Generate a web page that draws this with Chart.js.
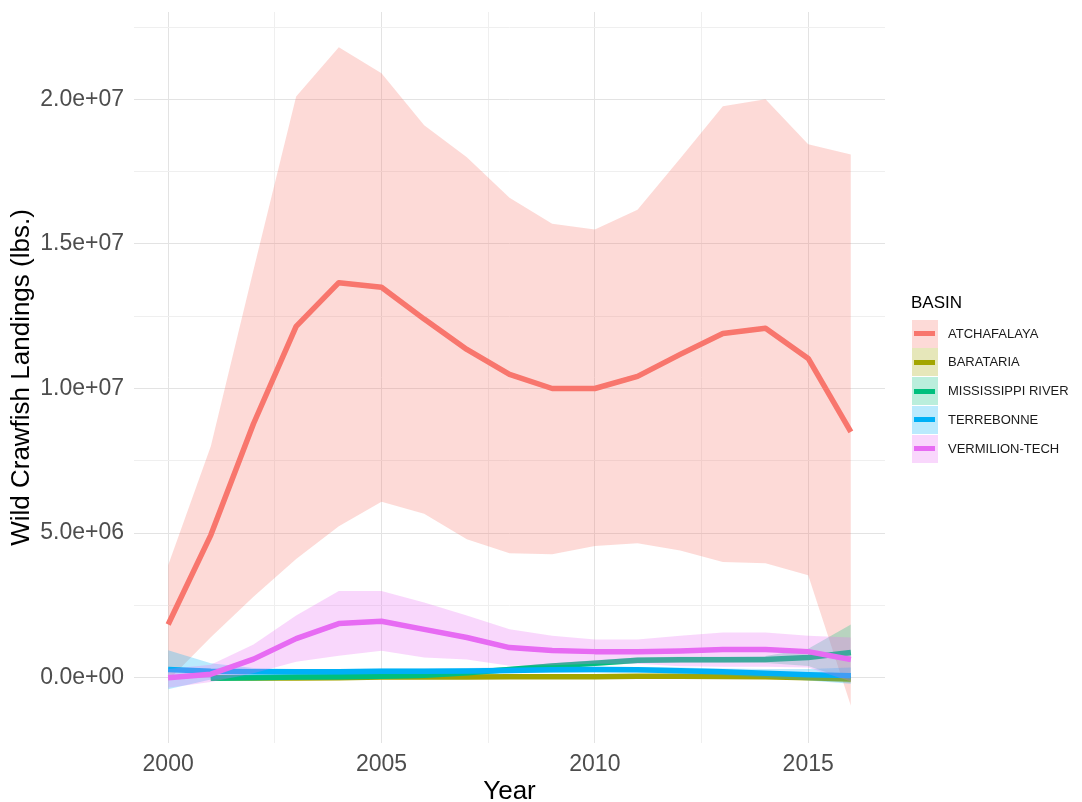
<!DOCTYPE html>
<html>
<head>
<meta charset="utf-8">
<title>Wild Crawfish Landings by Basin</title>
<script src="https://cdn.jsdelivr.net/npm/chart.js@4.4.1/dist/chart.umd.min.js"></script>
<style>
  html, body { margin: 0; padding: 0; background: #ffffff; }
  #wrap { position: relative; width: 1082px; height: 802px; }
  #chart { display: block; }
  #legend { position: absolute; left: 0; top: 0; font-family: "Liberation Sans", Arial, sans-serif; }
  .legend-title { position: absolute; left: 911px; top: 294px; font-size: 17px; line-height: 17px; color: #000000; white-space: nowrap; }
  .legend-row { position: absolute; left: 912px; width: 170px; height: 28px; }
  .legend-key { position: absolute; left: 0; top: 0; width: 26px; height: 28px; }
  .legend-key span { position: absolute; left: 2px; right: 3px; top: 11.5px; height: 5px; }
  .legend-label { position: absolute; left: 36px; top: 0; line-height: 28px; font-size: 13px; color: #1a1a1a; white-space: nowrap; }
</style>
</head>
<body>
<div id="wrap">
  <canvas id="chart" width="1082" height="802"></canvas>
  <div id="legend"></div>
</div>
<script>
// Smoothed wild crawfish landings (lbs.) per basin, with confidence band.
const years = [2000, 2001, 2002, 2003, 2004, 2005, 2006, 2007, 2008, 2009, 2010, 2011, 2012, 2013, 2014, 2015, 2016];

const basins = ['ATCHAFALAYA', 'BARATARIA', 'MISSISSIPPI RIVER', 'TERREBONNE', 'VERMILION-TECH'];
const basinColors = ['#F8766D', '#A3A500', '#00BF7D', '#00B0F6', '#E76BF3'];

const atchafalayaFit   = [1840000, 4930000, 8780000, 12150000, 13660000, 13500000, 12400000, 11350000, 10490000, 10000000, 10000000, 10420000, 11180000, 11900000, 12080000, 11040000, 8500000];
const atchafalayaUpper = [3890000, 8000000, 14100000, 20100000, 21800000, 20900000, 19100000, 18000000, 16600000, 15700000, 15500000, 16180000, 17950000, 19760000, 20000000, 18450000, 18090000];
const atchafalayaLower = [-100000, 1400000, 2800000, 4100000, 5240000, 6080000, 5670000, 4790000, 4300000, 4270000, 4550000, 4650000, 4400000, 4000000, 3960000, 3540000, -970000];

const baratariaFit   = [null, 0, -10000, -10000, 0, 20000, 20000, 20000, 30000, 30000, 30000, 50000, 50000, 40000, 30000, 0, -50000];
const baratariaUpper = [null, 80000, 60000, 60000, 70000, 90000, 90000, 90000, 100000, 100000, 100000, 120000, 120000, 110000, 100000, 90000, 80000];
const baratariaLower = [null, -80000, -80000, -80000, -70000, -50000, -50000, -50000, -40000, -40000, -40000, -20000, -20000, -30000, -40000, -90000, -180000];

const mississippiFit   = [null, -20000, 0, 20000, 30000, 50000, 80000, 170000, 280000, 400000, 500000, 600000, 620000, 620000, 630000, 700000, 870000];
const mississippiUpper = [null, 80000, 100000, 120000, 130000, 150000, 180000, 270000, 380000, 500000, 600000, 700000, 720000, 720000, 750000, 1000000, 1840000];
const mississippiLower = [null, -120000, -100000, -80000, -70000, -50000, -20000, 70000, 180000, 300000, 400000, 500000, 520000, 520000, 510000, 400000, -100000];

const terrebonneFit   = [280000, 220000, 200000, 200000, 200000, 220000, 220000, 230000, 250000, 270000, 280000, 270000, 240000, 200000, 150000, 100000, 70000];
const terrebonneUpper = [950000, 500000, 330000, 300000, 300000, 320000, 320000, 330000, 350000, 370000, 380000, 370000, 350000, 320000, 300000, 300000, 350000];
const terrebonneLower = [-400000, -60000, 70000, 100000, 100000, 120000, 120000, 130000, 150000, 170000, 180000, 170000, 130000, 80000, 0, -100000, -210000];

const vermilionFit   = [0, 120000, 640000, 1350000, 1870000, 1950000, 1670000, 1390000, 1040000, 940000, 900000, 900000, 920000, 970000, 970000, 900000, 630000];
const vermilionUpper = [300000, 450000, 1150000, 2150000, 3000000, 3000000, 2600000, 2150000, 1670000, 1450000, 1320000, 1320000, 1450000, 1560000, 1560000, 1450000, 1390000];
const vermilionLower = [-350000, -150000, 150000, 550000, 760000, 930000, 700000, 630000, 410000, 430000, 480000, 480000, 390000, 380000, 380000, 350000, -130000];

const yearTicks = [2000, 2005, 2010, 2015];
const landingTicks = [0, 5000000, 10000000, 15000000, 20000000];
const landingTickLabels = ['0.0e+00', '5.0e+06', '1.0e+07', '1.5e+07', '2.0e+07'];

const xMin = 1999.2, xMax = 2016.8;
const yMin = -2260000, yMax = 23020000;

const bandAlpha = 0.27;
const lineWidth = 5.5;
const fontFamily = '"Liberation Sans", Arial, Helvetica, sans-serif';

const seriesList = [
  { fit: atchafalayaFit, upper: atchafalayaUpper, lower: atchafalayaLower },
  { fit: baratariaFit, upper: baratariaUpper, lower: baratariaLower },
  { fit: mississippiFit, upper: mississippiUpper, lower: mississippiLower },
  { fit: terrebonneFit, upper: terrebonneUpper, lower: terrebonneLower },
  { fit: vermilionFit, upper: vermilionUpper, lower: vermilionLower }
];

function rgba(hex, a) {
  const n = parseInt(hex.slice(1), 16);
  return `rgba(${(n >> 16) & 255}, ${(n >> 8) & 255}, ${n & 255}, ${a})`;
}

function toPoints(values) {
  return years.map((yr, i) => ({ x: yr, y: values[i] }));
}

// Major ticks plus the half-step minor gridlines between (and around) them.
function gridValues(majors, min, max) {
  const step = majors[1] - majors[0];
  const out = [];
  for (let v = majors[0] - step; v <= max + 1e-9; v += step / 2) {
    if (v >= min - 1e-9) out.push(v);
  }
  return out;
}

// Each basin: band top (filled down to the next dataset), band bottom, then the fitted line.
const datasets = [];
seriesList.forEach((s, b) => {
  const color = basinColors[b];
  datasets.push({
    label: basins[b] + ' upper',
    data: toPoints(s.upper),
    borderColor: 'rgba(0,0,0,0)',
    borderWidth: 0,
    backgroundColor: rgba(color, bandAlpha),
    fill: '+1',
    pointRadius: 0
  });
  datasets.push({
    label: basins[b] + ' lower',
    data: toPoints(s.lower),
    borderColor: 'rgba(0,0,0,0)',
    borderWidth: 0,
    fill: false,
    pointRadius: 0
  });
  datasets.push({
    label: basins[b],
    data: toPoints(s.fit),
    borderColor: color,
    borderWidth: lineWidth,
    borderJoinStyle: 'round',
    fill: false,
    pointRadius: 0
  });
});
// Later basins are drawn over earlier ones.
datasets.forEach((d, i) => { d.order = -i; });

Chart.defaults.font.family = fontFamily;

const tickFont = { family: fontFamily, size: 23 };
const titleFont = { family: fontFamily, size: 26, lineHeight: 1 };

new Chart(document.getElementById('chart'), {
  type: 'line',
  data: { datasets },
  options: {
    responsive: false,
    animation: false,
    devicePixelRatio: 1,
    layout: { padding: { top: 12, right: 197, bottom: 0, left: 0 } },
    elements: { line: { tension: 0 }, point: { radius: 0 } },
    plugins: {
      legend: { display: false },
      tooltip: { enabled: false }
    },
    scales: {
      x: {
        type: 'linear',
        min: xMin,
        max: xMax,
        afterBuildTicks: scale => {
          scale.ticks = gridValues(yearTicks, xMin, xMax).map(v => ({ value: v }));
        },
        afterFit: scale => {
          scale.height = 59;
          scale.paddingLeft = 0;
          scale.paddingRight = 0;
        },
        ticks: {
          autoSkip: false,
          maxRotation: 0,
          padding: 8,
          color: '#4D4D4D',
          font: tickFont,
          callback: v => (yearTicks.includes(v) ? String(v) : '')
        },
        grid: {
          drawTicks: false,
          lineWidth: 1,
          color: ctx => (ctx.tick && yearTicks.includes(ctx.tick.value) ? '#E3E3E3' : '#EFEFEF')
        },
        border: { display: false },
        title: {
          display: true,
          text: 'Year',
          color: '#000000',
          font: titleFont,
          padding: { top: 0, bottom: -3 }
        }
      },
      y: {
        type: 'linear',
        min: yMin,
        max: yMax,
        afterBuildTicks: scale => {
          scale.ticks = gridValues(landingTicks, yMin, yMax).map(v => ({ value: v }));
        },
        afterFit: scale => {
          scale.width = 134;
          scale.paddingTop = 0;
          scale.paddingBottom = 0;
        },
        ticks: {
          autoSkip: false,
          padding: 10,
          color: '#4D4D4D',
          font: tickFont,
          callback: v => {
            const i = landingTicks.indexOf(v);
            return i >= 0 ? landingTickLabels[i] : '';
          }
        },
        grid: {
          drawTicks: false,
          lineWidth: 1,
          color: ctx => (ctx.tick && landingTicks.includes(ctx.tick.value) ? '#E3E3E3' : '#EFEFEF')
        },
        border: { display: false },
        title: {
          display: true,
          text: 'Wild Crawfish Landings (lbs.)',
          color: '#000000',
          font: titleFont,
          padding: { top: 9, bottom: 0 }
        }
      }
    }
  }
});

// Legend: band swatch with the basin's line across it.
const legend = document.getElementById('legend');
const title = document.createElement('div');
title.className = 'legend-title';
title.textContent = 'BASIN';
legend.appendChild(title);
basins.forEach((name, i) => {
  const row = document.createElement('div');
  row.className = 'legend-row';
  row.style.top = (319.5 + i * 28.75) + 'px';
  const key = document.createElement('div');
  key.className = 'legend-key';
  key.style.background = rgba(basinColors[i], bandAlpha);
  const bar = document.createElement('span');
  bar.style.background = basinColors[i];
  key.appendChild(bar);
  const label = document.createElement('div');
  label.className = 'legend-label';
  label.textContent = name;
  row.appendChild(key);
  row.appendChild(label);
  legend.appendChild(row);
});
</script>
</body>
</html>
